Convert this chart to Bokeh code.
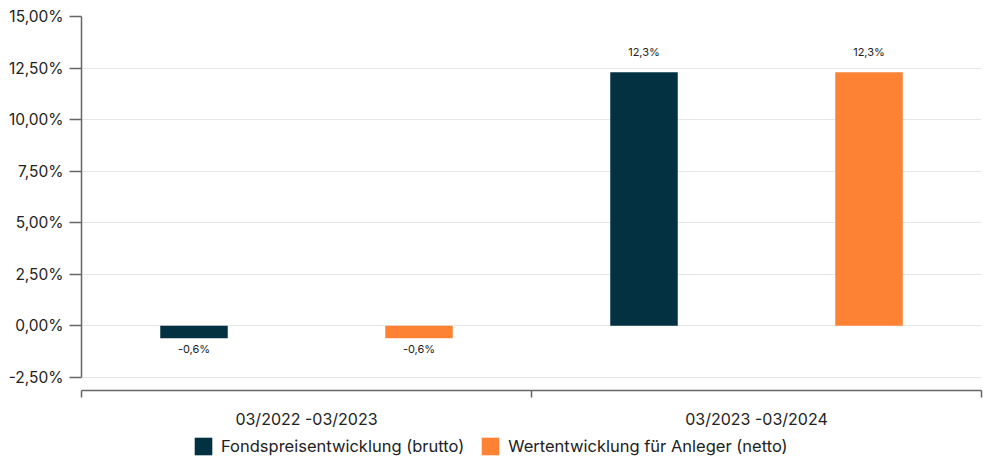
from bokeh.plotting import figure
from bokeh.layouts import column
from bokeh.models import (ColumnDataSource, FixedTicker, CustomJSTickFormatter, Legend, LegendItem)
from bokeh.core.properties import value
from bokeh.embed import file_html
from bokeh.resources import INLINE

categories = ["03/2022 -03/2023", "03/2023 -03/2024"]
series_names = ["Fondspreisentwicklung (brutto)", "Wertentwicklung für Anleger (netto)"]
brutto = [-0.6, 12.3]
netto = [-0.6, 12.3]
y_ticks = [-2.5, 0.0, 2.5, 5.0, 7.5, 10.0, 12.5, 15.0]

colors = ["#033142", "#FE8233"]
FONT = "Inter"

p = figure(width=983, height=431, output_backend="svg", toolbar_location=None,
           x_range=(0, len(categories)), y_range=(-3.14, 15.0),
           min_border_left=81, min_border_right=2, min_border_top=16, min_border_bottom=40)
p.outline_line_color = None
p.xgrid.grid_line_color = None
p.ygrid.ticker = FixedTicker(ticks=y_ticks)
p.ygrid.grid_line_color = "#e6e6e6"
p.ygrid.grid_line_width = 1

for k, (vals, name, col) in enumerate(zip([brutto, netto], series_names, colors)):
    xs = [i + 0.25 + 0.5 * k for i in range(len(categories))]
    labels = [f"{v:.1f}".replace(".", ",") + "%" for v in vals]
    src = ColumnDataSource(dict(x=xs, top=vals, lab=labels))
    p.vbar(x="x", top="top", bottom=0, width=0.15, source=src, color=col, line_color=None)
    pos = ColumnDataSource(dict(x=[x for x, v in zip(xs, vals) if v >= 0],
                                y=[v for v in vals if v >= 0],
                                lab=[l for l, v in zip(labels, vals) if v >= 0]))
    neg = ColumnDataSource(dict(x=[x for x, v in zip(xs, vals) if v < 0],
                                y=[v for v in vals if v < 0],
                                lab=[l for l, v in zip(labels, vals) if v < 0]))
    p.text(x="x", y="y", text="lab", source=pos, text_align="center", text_baseline="bottom",
           y_offset=-13, text_font=value(FONT), text_font_size="11px", text_color="#222222")
    p.text(x="x", y="y", text="lab", source=neg, text_align="center", text_baseline="top",
           y_offset=4, text_font=value(FONT), text_font_size="11px", text_color="#222222")

# y axis
ya = p.yaxis[0]
ya.ticker = FixedTicker(ticks=y_ticks)
ya.formatter = CustomJSTickFormatter(code="return tick.toFixed(2).replace('.', ',') + '%';")
ya.bounds = (-2.5, 15.0)
ya.axis_line_color = "#666666"
ya.axis_line_width = 1.5
ya.major_tick_line_color = "#666666"
ya.major_tick_line_width = 1.5
ya.major_tick_out = 12
ya.major_tick_in = 0
ya.minor_tick_line_color = None
ya.major_label_standoff = 6
ya.major_label_text_font = FONT
ya.major_label_text_font_size = "15.5px"
ya.major_label_text_color = "#222222"

# x axis
xa = p.xaxis[0]
xa.ticker = FixedTicker(ticks=[i + 0.5 for i in range(len(categories))],
                        minor_ticks=list(range(len(categories) + 1)))
xa.major_label_overrides = {i + 0.5: c for i, c in enumerate(categories)}
xa.axis_line_color = "#666666"
xa.axis_line_width = 1.5
xa.major_tick_line_color = None
xa.major_tick_out = 0
xa.major_tick_in = 0
xa.minor_tick_line_color = "#666666"
xa.minor_tick_line_width = 1.5
xa.minor_tick_out = 7
xa.minor_tick_in = 0
xa.major_label_standoff = 11
xa.major_label_text_font = FONT
xa.major_label_text_font_size = "16px"
xa.major_label_text_color = "#222222"

# legend in its own strip below the chart (swatch renderers are zero-sized)
lg = figure(width=983, height=27, output_backend="svg", toolbar_location=None,
            x_axis_location=None, y_axis_location=None, x_range=(0, 1), y_range=(0, 1),
            min_border_left=0, min_border_right=0, min_border_top=0, min_border_bottom=0)
lg.outline_line_color = None
lg.xgrid.grid_line_color = None
lg.ygrid.grid_line_color = None
items = []
for name, col in zip(series_names, colors):
    r = lg.rect(x=[0.5], y=[0.5], width=0, height=0, fill_color=col, line_color=None)
    items.append(LegendItem(label=name, renderers=[r]))
legend = Legend(items=items, orientation="horizontal", location=(111, 1),
                glyph_width=22, glyph_height=22, label_standoff=7, spacing=15,
                padding=0, margin=0, border_line_color=None, background_fill_alpha=0,
                label_text_font=FONT, label_text_font_size="16.5px", label_text_color="#222222")
lg.add_layout(legend, "center")

layout = column(p, lg, spacing=0)
open("out.html", "w").write(file_html(layout, INLINE))
